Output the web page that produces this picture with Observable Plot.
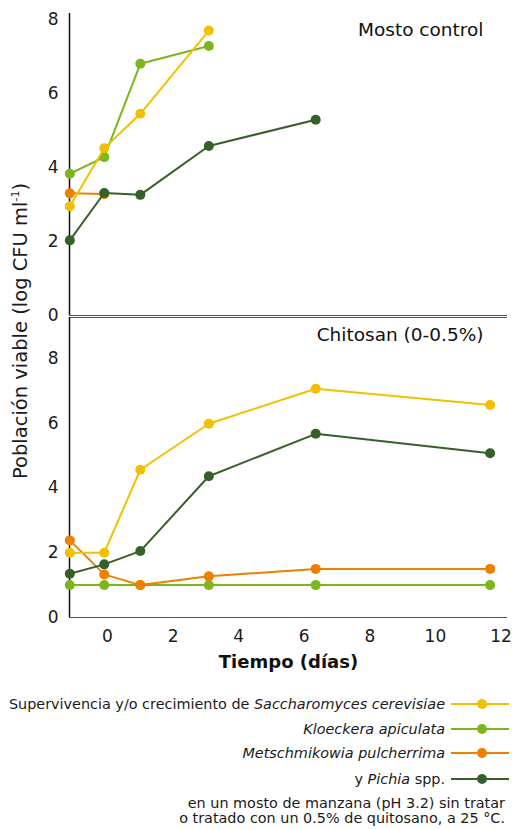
<!DOCTYPE html>
<html>
<head>
<meta charset="utf-8">
<script src="https://cdn.jsdelivr.net/npm/d3@7"></script>
<script src="https://cdn.jsdelivr.net/npm/@observablehq/plot@0.6"></script>
<style>
  html, body { margin: 0; padding: 0; background: #fff; }
  body { width: 512px; height: 829px; position: relative; overflow: hidden; font-family: "DejaVu Sans", sans-serif; color: #1a1a1a; }
  #chart svg { display: block; }
  #ylab { position: absolute; left: 18px; top: 331px; transform: translate(-50%, -50%) rotate(-90deg); white-space: nowrap; font-size: 19.5px; line-height: 22px; }
  #legend { position: absolute; left: 0; top: 690px; width: 512px; font-size: 14.4px; }
  .row { position: absolute; right: 0; height: 20px; display: flex; align-items: center; justify-content: flex-end; }
  .row span { white-space: nowrap; margin-right: 3px; }
  .cap { position: absolute; right: 7px; white-space: nowrap; text-align: right; line-height: 14px; }
</style>
</head>
<body>
<div id="chart"></div>
<div id="ylab">Población viable (log CFU ml<sup style="font-size:11px; vertical-align: 8px">-1</sup>)</div>
<div id="legend"></div>
<script>
// ---- data ----
const days = [-1.15, -0.1, 1.0, 3.09, 6.35, 11.67];
const species = ["Saccharomyces cerevisiae", "Kloeckera apiculata", "Metschmikowia pulcherrima", "Pichia spp."];
const colors = ["#f1c000", "#7cb61e", "#ee7f00", "#36602a"];
// Mosto control
const controlSacch  = [2.95, 4.52, 5.45, 7.7];
const controlKloeck = [3.83, 4.28, 6.8, 7.28];
const controlMetsch = [3.3, 3.28];
const controlPichia = [2.03, 3.31, 3.26, 4.58, 5.29];
// Chitosan
const chitoSacch  = [2.0, 2.0, 4.56, 5.98, 7.06, 6.56];
const chitoKloeck = [1.0, 1.0, 1.0, 1.0, 1.0, 1.0];
const chitoMetsch = [2.38, 1.33, 1.0, 1.27, 1.5, 1.5];
const chitoPichia = [1.35, 1.64, 2.05, 4.36, 5.67, 5.07];
const yTicks = [0, 2, 4, 6, 8];
const xTicks = [0, 2, 4, 6, 8, 10, 12];

const xDomain = [-1.16, 12.2];

function toRows(arrs) {
  const rows = [];
  arrs.forEach((vals, si) => vals.forEach((v, i) => rows.push({sp: species[si], x: days[i], y: v})));
  return rows;
}
const drawOrder = [1, 2, 3, 0];

const controlRows = toRows([controlSacch, controlKloeck, controlMetsch, controlPichia]);
const chitoRows = toRows([chitoSacch, chitoKloeck, chitoMetsch, chitoPichia]);

const font = "DejaVu Sans, sans-serif";

function seriesMarks(rows) {
  const marks = [];
  for (const si of drawOrder) {
    const d = rows.filter(r => r.sp === species[si]);
    marks.push(Plot.line(d, {x: "x", y: "y", stroke: colors[si], strokeWidth: 2}));
    marks.push(Plot.dot(d, {x: "x", y: "y", fill: colors[si], r: 5}));
  }
  return marks;
}

const topPanel = Plot.plot({
  width: 512, height: 316,
  marginLeft: 69, marginRight: 5, marginTop: 13, marginBottom: 1,
  style: {fontFamily: font, fontSize: "17px", color: "#1a1a1a", background: "transparent", overflow: "visible"},
  x: {domain: xDomain, axis: null},
  y: {domain: [0, 8.16]},
  marks: [
    Plot.axisY({ticks: yTicks, tickSize: 0, tickPadding: 11, label: null, fontSize: 17}),
    Plot.ruleY([0], {stroke: "#555", strokeWidth: 1}),
    Plot.ruleX([xDomain[0]], {stroke: "#111", strokeWidth: 1.5}),
    ...seriesMarks(controlRows),
    Plot.text(["Mosto control"], {frameAnchor: "top-right", dx: -24, dy: 17, lineAnchor: "middle", textAnchor: "end", fontSize: 18.5, fill: "#111"})
  ]
});

const bottomPanel = Plot.plot({
  width: 512, height: 364,
  marginLeft: 69, marginRight: 5, marginTop: 1, marginBottom: 63,
  style: {fontFamily: font, fontSize: "17px", color: "#1a1a1a", background: "transparent", overflow: "visible"},
  x: {domain: xDomain},
  y: {domain: [0, 9.26]},
  marks: [
    Plot.axisY({ticks: yTicks, tickSize: 0, tickPadding: 11, label: null, fontSize: 17}),
    Plot.axisX({ticks: xTicks, tickSize: 0, tickPadding: 12, label: null, fontSize: 17}),
    Plot.ruleY([0, 9.26], {stroke: "#555", strokeWidth: 1}),
    Plot.ruleX([xDomain[0]], {stroke: "#111", strokeWidth: 1.5}),
    ...seriesMarks(chitoRows),
    Plot.text(["Chitosan (0-0.5%)"], {frameAnchor: "top-right", dx: -24, dy: 18, lineAnchor: "middle", textAnchor: "end", fontSize: 18.5, fill: "#111"}),
    Plot.text(["Tiempo (días)"], {frameAnchor: "bottom", dy: 45, lineAnchor: "middle", fontSize: 18, fontWeight: "bold", fill: "#111"})
  ]
});

const chart = document.getElementById("chart");
chart.appendChild(topPanel);
chart.appendChild(bottomPanel);

// ---- legend ----
const legendLabels = [
  'Supervivencia y/o crecimiento de <i>Saccharomyces cerevisiae</i>',
  '<i>Kloeckera apiculata</i>',
  '<i>Metschmikowia pulcherrima</i>',
  'y <i>Pichia</i> spp.'
];
const rowY = [704, 729, 753, 779];
const legend = document.getElementById("legend");
legendLabels.forEach((lab, i) => {
  const row = document.createElement("div");
  row.className = "row";
  row.style.top = (rowY[i] - 690 - 10) + "px";
  row.innerHTML = `<span>${lab}</span><svg width="64" height="14"><line x1="3" x2="61" y1="7" y2="7" stroke="${colors[i]}" stroke-width="2"/><circle cx="34" cy="7" r="5" fill="${colors[i]}"/></svg>`;
  legend.appendChild(row);
});
const cap1 = document.createElement("div");
cap1.className = "cap";
cap1.style.top = (803 - 690 - 7) + "px";
cap1.textContent = "en un mosto de manzana (pH 3.2) sin tratar";
legend.appendChild(cap1);
const cap2 = document.createElement("div");
cap2.className = "cap";
cap2.style.top = (818 - 690 - 7) + "px";
cap2.textContent = "o tratado con un 0.5% de quitosano, a 25 °C.";
legend.appendChild(cap2);
</script>
</body>
</html>
